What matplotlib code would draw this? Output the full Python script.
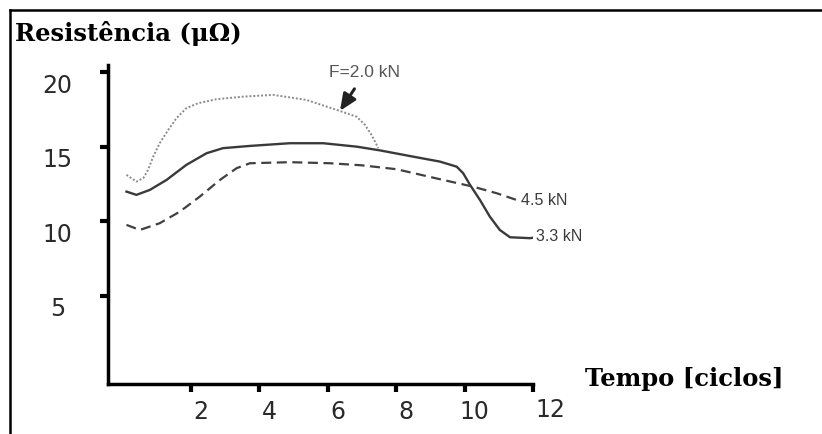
import numpy as np
import matplotlib.pyplot as plt
import matplotlib.transforms as mtransforms
from matplotlib.lines import Line2D

# curve data (time in cycles, resistance in micro-ohm)
t_20 = [0.12, 0.41, 0.61, 0.75, 0.90, 1.09, 1.34, 1.58, 1.87, 2.21, 2.75, 3.53,
        4.41, 5.38, 6.36, 6.85, 7.09, 7.28, 7.48]
r_20 = [13.11, 12.66, 12.89, 13.44, 14.33, 15.23, 16.12, 16.91, 17.58, 17.91, 18.18, 18.35,
        18.47, 18.13, 17.39, 17.0, 16.46, 15.79, 14.9]

t_33 = [0.12, 0.41, 0.8, 1.29, 1.87, 2.46, 2.94, 3.73, 4.89, 5.87, 6.85, 7.53, 8.5,
        9.28, 9.77, 9.96, 10.16, 10.45, 10.74, 11.03, 11.33, 11.91, 12.0]
r_33 = [11.99, 11.77, 12.1, 12.77, 13.78, 14.56, 14.9, 15.05, 15.23, 15.23, 15.0, 14.75, 14.33,
        14.0, 13.66, 13.22, 12.44, 11.43, 10.31, 9.42, 8.93, 8.87, 8.9]

t_45 = [0.12, 0.51, 1.09, 1.68, 2.26, 2.85, 3.34, 3.73, 4.89, 6.06, 7.0, 8.01,
        9.28, 10.25, 10.94, 11.52]
r_45 = [9.76, 9.42, 9.87, 10.65, 11.65, 12.77, 13.56, 13.89, 13.96, 13.89, 13.75, 13.49,
        12.82, 12.32, 11.88, 11.43]

yticks = [5, 10, 15, 20]
xticks = [2, 4, 6, 8, 10, 12]

fig = plt.figure(figsize=(8.22, 4.34), dpi=100)
ax = fig.add_axes([0.1314, 0.1152, 0.517, 0.735])

ax.plot(t_20, r_20, color="#8a8a8a", linestyle=(0, (1, 1)), linewidth=1.4)
ax.plot(t_33, r_33, color="#3a3a3a", linewidth=1.7, solid_joinstyle="round")
ax.plot(t_45, r_45, color="#404040", linestyle=(0, (4.5, 2.5)), linewidth=1.6)

ax.set_xlim(-0.42, 12.0)
ax.set_ylim(-0.9, 20.47)

for s in ["top", "right"]:
    ax.spines[s].set_visible(False)
for s in ["left", "bottom"]:
    ax.spines[s].set_linewidth(2.5)
    ax.spines[s].set_color("black")

ax.set_yticks(yticks)
ax.set_yticklabels([str(v) for v in yticks])
ax.set_xticks(xticks)
ax.set_xticklabels([str(v) for v in xticks])
ax.tick_params(axis="both", direction="out", length=5.5, width=3, color="black",
               labelsize=17, labelcolor="#2a2a2a")
ax.tick_params(axis="y", pad=31)
ax.tick_params(axis="x", pad=6)

for lab in ax.get_yticklabels():
    lab.set_horizontalalignment("center")
    lab.set_transform(lab.get_transform() + mtransforms.ScaledTranslation(0, -0.11, fig.dpi_scale_trans))
for lab in ax.get_xticklabels():
    dx, dy = 0.10, 0
    if lab.get_text() == "12":
        dx, dy = 0.17, 0.02
    lab.set_transform(lab.get_transform() + mtransforms.ScaledTranslation(dx, dy, fig.dpi_scale_trans))

# curve labels
ax.text(11.66, 11.42, "4.5 kN", fontsize=11.5, color="#3a3a3a", va="center", ha="left",
        family="Liberation Sans", clip_on=False)
ax.text(12.1, 8.95, "3.3 kN", fontsize=11.5, color="#3a3a3a", va="center", ha="left",
        family="Liberation Sans", clip_on=False)
ax.annotate("F=2.0 kN", xy=(6.36, 17.4), xytext=(7.09, 19.95), fontsize=12.5,
            color="#555555", ha="center", va="center", family="Liberation Sans",
            arrowprops=dict(arrowstyle="-|>,head_length=0.8,head_width=0.35",
                            color="#222222", lw=2.2, shrinkA=5, shrinkB=0))

# axis titles
fig.text(15 / 822, 1 - 33 / 434, "Resistência (μΩ)", fontsize=17.5, fontweight="bold",
         family="DejaVu Serif", va="center", ha="left")
fig.text(585 / 822, 1 - 379 / 434, "Tempo [ciclos]", fontsize=17.5, fontweight="bold",
         family="DejaVu Serif", va="center", ha="left")

# frame lines (left and top)
fig.add_artist(Line2D([10 / 822, 10 / 822], [0, 1 - 10 / 434], transform=fig.transFigure,
                      color="black", linewidth=1.8))
fig.add_artist(Line2D([10 / 822, 1], [1 - 10 / 434, 1 - 10 / 434], transform=fig.transFigure,
                      color="black", linewidth=1.8))

plt.savefig("out.png", dpi=100)
